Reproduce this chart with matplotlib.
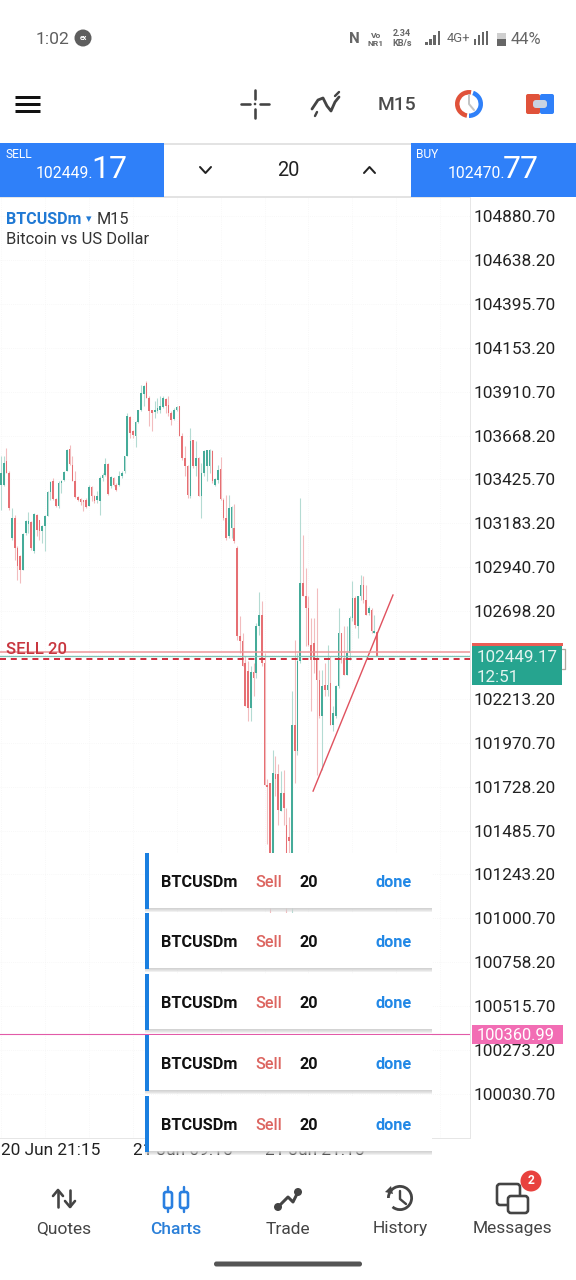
import matplotlib
matplotlib.use("Agg")
import logging
logging.getLogger("matplotlib.font_manager").setLevel(logging.ERROR)
import matplotlib.pyplot as plt
from matplotlib.patches import Rectangle, Circle, FancyBboxPatch, Wedge, Polygon

# ---------- data ----------
highs = [103553,103557,103599,103470,103268,103231,103056,103010,103130,103204,103244,103194,103240,103237,103204,103176,103231,103360,103415,103434,
103323,103415,103424,103470,103594,103618,103557,103470,103332,103323,103314,103323,103397,103388,103342,103360,103443,103461,103544,103516,
103443,103439,103406,103470,103470,103553,103793,103774,103701,103747,103811,103949,103949,103968,103885,103811,103857,103876,103885,103885,
103876,103885,103802,103820,103833,103833,103682,103609,103507,103710,103645,103636,103550,103516,103590,103590,103594,103590,103434,103507,
103550,103323,103342,103342,103277,103292,103056,102670,102578,102449,102421,102393,102412,102633,102802,102752,102467,101768,101750,101930,
101897,101851,101814,101823,101611,101560,102255,102541,102467,103323,103121,102937,102780,102660,102660,102826,102375,102375,102412,102513,
102449,102173,102292,102716,102578,102614,102614,102670,102863,102780,102780,102900,102894,102845,102725,102716,102679,102587]
tops = [103461,103517,103526,103461,103213,103213,103047,103005,103126,103194,103194,103189,103237,103231,103200,103167,103222,103355,103412,103415,
103318,103406,103419,103465,103590,103594,103507,103415,103327,103318,103310,103314,103384,103382,103332,103336,103434,103452,103513,103513,
103439,103434,103397,103447,103461,103553,103774,103771,103691,103741,103807,103903,103944,103958,103876,103807,103811,103820,103829,103876,
103870,103839,103793,103807,103826,103829,103667,103544,103498,103636,103642,103544,103544,103461,103581,103586,103590,103581,103428,103480,
103483,103314,103213,103268,103273,103157,103047,102559,102532,102412,102366,102360,102360,102618,102679,102679,102412,101740,101746,101805,
101801,101801,101694,101694,101519,101450,102071,102071,102421,102854,102854,102780,102716,102513,102522,102430,102320,102283,102292,102292,
102301,102136,102283,102578,102578,102440,102467,102660,102771,102771,102780,102845,102845,102762,102716,102706,102587,102582]
bottoms = [103397,103397,103461,103268,103102,103047,102946,102927,102927,103130,103181,103047,103029,103148,103139,103139,103167,103226,103355,103318,
103277,103277,103406,103421,103470,103511,103415,103327,103310,103299,103299,103273,103281,103332,103305,103310,103305,103434,103450,103347,
103388,103397,103366,103397,103443,103470,103553,103682,103673,103664,103741,103807,103899,103876,103802,103793,103798,103802,103811,103826,
103829,103793,103756,103760,103807,103667,103544,103498,103342,103336,103498,103498,103336,103336,103461,103498,103498,103415,103397,103424,
103318,103213,103102,103111,103157,103084,102559,102532,102393,102173,102163,102163,102329,102357,102614,102412,101740,101727,101323,101323,
101768,101602,101593,101611,101290,101430,101340,101924,101924,102421,102780,102716,102513,102430,102430,102320,102117,102117,102265,102265,
102071,102071,102117,102283,102430,102347,102347,102467,102660,102624,102614,102780,102762,102679,102688,102587,102578,102449]
lows = [103259,103388,103461,103259,103093,102983,102872,102854,102927,103121,103130,103038,103019,103111,103093,103075,103029,103222,103314,103314,
103273,103268,103351,103415,103470,103507,103415,103323,103305,103286,103250,103268,103277,103305,103296,103296,103231,103415,103443,103342,
103378,103388,103360,103388,103434,103461,103553,103655,103655,103605,103737,103802,103829,103876,103719,103691,103765,103793,103793,103820,
103793,103774,103728,103756,103802,103664,103535,103443,103323,103323,103489,103443,103332,103213,103443,103415,103461,103406,103388,103406,
103314,103204,103093,103102,103102,103075,102541,102467,102393,102173,102090,102090,102228,102329,102568,102393,101740,101409,101030,101200,
101676,101519,101593,101519,101030,101100,101030,101749,101906,102412,102780,102504,102504,102145,102357,101795,102108,101823,102228,102228,
102071,102034,102108,102275,102412,102347,102347,102430,102642,102605,102550,102762,102743,102679,102679,102578,102578,102449]
bullish_idx = (0,1,4,8,9,10,12,15,16,17,18,21,22,23,24,32,35,36,37,38,40,43,44,45,46,49,50,51,52,56,57,58,59,63,64,69,71,73,74,75,76,78,79,83,84,91,93,94,99,102,106,108,109,117,119,121,122,123,126,127,128,130,131,134,136)
bullish = [i in bullish_idx for i in range(len(highs))]

price_ticks = [104880.70,104638.20,104395.70,104153.20,103910.70,103668.20,103425.70,103183.20,102940.70,102698.20,102455.70,
               102213.20,101970.70,101728.20,101485.70,101243.20,101000.70,100758.20,100515.70,100273.20,100030.70]
hidden_tick = 102455.70  # sits under the live price badge
time_tick_idx = [0, 48, 96]
time_tick_labels = ["20 Jun 21:15", "21 Jun 09:15", "21 Jun 21:15"]
trend_idx = [113.7, 142.8]
trend_price = [101704, 102787]
ask_price = 102470.77
bid_price = 102449.17
order_price = 102434
alert_price = 100360.99
orders = 5

# ---------- style ----------
GREEN, RED = "#45ab99", "#e66f73"
GWICK, RWICK = "#b4dbd3", "#f2bcbe"
BLUE = "#2f80f9"
FONT = ["Roboto", "DejaVu Sans"]
plt.rcParams["font.family"] = FONT
W, H = 576, 1280
px = 0.72  # points per pixel at dpi 100

fig = plt.figure(figsize=(W/100, H/100), dpi=100, facecolor="white")

# ---------- chart ----------
ax = fig.add_axes([0, 1-1138/H, 470/W, (1138-197)/H], zorder=1)
ax.set_xlim(-0.364, 170.86)
ax.set_ylim(99787.6, 104985.7)
x = list(range(len(highs)))
ax.vlines(x, lows, highs, colors=[GWICK if b else RWICK for b in bullish], lw=1.1*px, zorder=3)
ax.bar(x, [t-b for t, b in zip(tops, bottoms)], bottom=bottoms, width=0.6,
       color=[GREEN if b else RED for b in bullish], lw=0, zorder=4)
ax.plot(trend_idx, trend_price, color="#e0525f", lw=1.4*px, zorder=5)
ax.axhline(ask_price, color="#ec9496", lw=1.5*px, zorder=5)
ax.axhline(bid_price, color="#7fc4b6", lw=1.3*px, zorder=5)
ax.axhline(order_price, color="#cf3040", lw=2*px, ls=(0, (3, 2.4)), zorder=6)
ax.axhline(alert_price, color="#e25aa8", lw=1.1*px, zorder=6)
ax.yaxis.tick_right()
ax.set_yticks(price_ticks, ["" if p == hidden_tick else f"{p:.2f}" for p in price_ticks])
ax.set_xticks(time_tick_idx, time_tick_labels, ha="left")
ax.set_xticks(range(16, 170, 16), minor=True)
ax.tick_params(axis="y", length=0, pad=2.6, labelsize=17.2*px, labelcolor="#222222")
ax.tick_params(axis="x", which="major", length=0, pad=3.8, labelsize=17.3*px, labelcolor="#222222")
ax.tick_params(axis="x", which="minor", length=0)
ax.grid(True, which="both", color="#f5f5f5", lw=0.8*px, ls=":", zorder=0)
ax.set_axisbelow(True)
ax.spines["left"].set_visible(False)
for s in ("right", "bottom", "top"):
    ax.spines[s].set_color("#e6e6e6")
    ax.spines[s].set_linewidth(1*px)

# ---------- app interface overlay, in screen pixels ----------
ui = fig.add_axes([0, 0, 1, 1], zorder=5)
ui.set_xlim(0, W); ui.set_ylim(H, 0); ui.axis("off"); ui.patch.set_alpha(0)

def txt(x, y, s, size, color="#222222", ha="left", weight="normal", fam=FONT, z=6):
    return ui.text(x, y, s, fontsize=size*px, color=color, ha=ha, va="center", fontweight=weight, family=fam, zorder=z)
def rect(x0, y0, x1, y1, color, z=1, alpha=1):
    ui.add_patch(Rectangle((x0, y0), x1-x0, y1-y0, fc=color, ec="none", zorder=z, alpha=alpha))
def line(xs, ys, color="#444444", lw=2, z=3, cap="round"):
    ui.plot(xs, ys, color=color, lw=lw*px, zorder=z, solid_capstyle=cap, solid_joinstyle="round")
def rrect(x0, y0, x1, y1, r, fc, ec="none", lw=0, z=3):
    ui.add_patch(FancyBboxPatch((x0+r, y0+r), x1-x0-2*r, y1-y0-2*r, boxstyle=f"round,pad={r}", fc=fc, ec=ec, lw=lw*px, zorder=z))

# chart captions
txt(6, 220, "BTCUSDm", 16, "#2079d4", weight="bold")
txt(86, 219, "▾", 11, "#2079d4", fam=["DejaVu Sans"])
txt(97, 220, "M15", 16.3, "#333333")
txt(6, 240, "Bitcoin vs US Dollar", 16.5, "#333333")
txt(6, 649, "SELL 20", 16.8, "#c8363f", weight="medium")

# status bar
txt(36, 39, "1:02", 17.5, "#5f5f5f")
ui.add_patch(Circle((83, 38), 8.5, fc="#5e5e5e", zorder=3))
txt(83, 38, "ex", 7, "white", ha="center", weight="bold")
txt(354, 39, "N", 15, "#666666", ha="center", weight="bold")
txt(376, 35, "Vo", 8.5, "#666666", ha="center", weight="bold")
txt(376, 43, "NR1", 8.5, "#666666", ha="center", weight="bold")
txt(402, 34, "2.34", 9, "#666666", ha="center", weight="bold")
txt(402, 43, "KB/s", 9, "#666666", ha="center", weight="bold")
for i, h in enumerate((3, 6, 10, 14)):
    rect(425+4.2*i, 45-h, 427.5+4.2*i, 45, "#666666", 3)
txt(447, 38, "4G+", 13, "#666666")
for i, h in enumerate((6, 10, 13, 14)):
    rect(474+4.0*i, 45-h, 476.3+4.0*i, 45, "#666666", 3)
rect(497, 33, 506, 46, "#cfcfcf", 2)
rect(497, 39, 506, 46, "#666666", 3)
txt(511, 39, "44%", 16.5, "#666666")

# toolbar
for y in (97, 104, 111):
    line([15, 40], [y, y], "#111111", 3, cap="butt")
line([241, 250], [104, 104], "#444444", 2.6); line([260, 269], [104, 104], "#444444", 2.6)
line([255, 255], [90, 99], "#444444", 2.6); line([255, 255], [109, 118], "#444444", 2.6)
ui.add_patch(Circle((255, 104), 1.3, fc="#444444", zorder=3))
line([312, 318, 323, 327, 331, 335, 339], [109, 100, 98, 106, 111, 102, 97], "#444444", 2.8)
line([315, 317], [116, 112], "#444444", 2.4); line([335, 339], [96, 92], "#444444", 2.4)
txt(397, 105, "M15", 19.3, "#4a4a4a", ha="center", weight="medium")
ui.add_patch(Wedge((469, 104), 14, 100, 280, width=4.5, fc="#e0523a", zorder=3))
ui.add_patch(Wedge((469, 104), 14, -70, 90, width=4.5, fc="#2f80f9", zorder=3))
line([469, 469, 474], [95, 104, 110], "#c4c4c4", 2)
rrect(526, 94, 540, 114, 2, "#e0523a")
rrect(540, 94, 554, 114, 2, "#2f80f9")
rrect(533, 100, 547, 108, 3, "#c9d4e2", z=4)

# trade bar
rect(0, 143, 164, 197, BLUE)
rect(411, 143, 576, 197, BLUE)
rect(164, 143, 411, 145, "#e3e3e3"); rect(164, 196, 411, 198, "#e3e3e3")
txt(5, 155, "SELL", 12, "white")
txt(36, 173, "102449.", 15.8, "white")
txt(91, 170, "17", 32, "white")
txt(416, 155, "BUY", 12, "white")
txt(448, 173, "102470.", 15.8, "white")
txt(503, 170, "77", 32, "white")
line([200, 205.5, 211], [167, 173, 167], "#222222", 2)
line([364, 369.5, 375], [173, 167, 173], "#222222", 2)
txt(288, 171, "20", 20, "#222222", ha="center")

# price badges
rect(472, 645, 562, 685, "#26a48f", 4)
rect(472, 643, 563, 646, "#ea5d55", 5)
line([562, 565, 565, 562], [649, 649, 669, 669], "#b0a8a0", 1.3, z=4)
txt(477, 657, f"{bid_price:.2f}", 17, "#e4f4f0")
txt(477, 678, "12:51", 17, "#e4f4f0")
rect(472, 1025, 563, 1044, "#f26db4", 4)
txt(477, 1035, f"{alert_price:.2f}", 16.5, "white")

# order notifications
tops_px = [853, 913, 974, 1035, 1096]
for t in tops_px[:orders]:
    b = t+55
    for k, a in enumerate((0.9, 0.75, 0.55, 0.3)):
        rect(145, b+k, 432, b+k+1, "#cfcfcf", 5, a)
    rect(145, t, 432, b, "white", 6)
    rect(145, t, 149, b+1, "#1a7fe0", 7)
    for xx, s, c, w in ((161, "BTCUSDm", "#111111", "bold"), (255, "Sell", "#dc6560", "medium"),
                        (299, "20", "#111111", "bold"), (376, "done", "#2288e6", "bold")):
        txt(xx, t+29.6, s, 16.3, c, weight=w, z=8)

# bottom navigation
NAV = "#444444"
for xx, s, c, w in ((64, "Quotes", NAV, "normal"), (176, "Charts", "#2a7fd8", "medium"),
                    (288, "Trade", NAV, "normal"), (400, "History", NAV, "normal"), (512, "Messages", NAV, "normal")):
    txt(xx, 1229, s, 17.4, c, ha="center", weight=w)
# quotes icon
line([58, 58], [1191, 1207], NAV, 2.6); line([53, 58, 63], [1196, 1190, 1196], NAV, 2.6)
line([70, 70], [1190, 1206], NAV, 2.6); line([65, 70, 75], [1201, 1207, 1201], NAV, 2.6)
# charts icon
for xx in (168, 184):
    line([xx, xx], [1187, 1212], "#2a7fe0", 2.4)
    rrect(xx-4, 1192, xx+4, 1208, 2, "white", "#2a7fe0", 2.6, z=4)
# trade icon
line([278, 288, 293, 298], [1207, 1197, 1202, 1192], NAV, 3)
ui.add_patch(Circle((278, 1207), 4, fc=NAV, zorder=4)); ui.add_patch(Circle((298, 1192), 4, fc=NAV, zorder=4))
# history icon
ui.add_patch(Wedge((400, 1198), 13, -180, 130, width=2.8, fc=NAV, zorder=3))
ui.add_patch(Polygon([[385, 1192], [391, 1186], [393, 1194]], fc=NAV, zorder=3))
line([400, 400, 406], [1191, 1199, 1204], NAV, 2.4)
# messages icon
rrect(497, 1184, 520, 1205, 3, "white", NAV, 2.6, z=3)
rrect(508, 1196, 528, 1213, 3, "white", NAV, 2.6, z=4)
ui.add_patch(Circle((531, 1181), 10.5, fc="#e8413e", zorder=5))
txt(531, 1181, "2", 12, "white", ha="center", weight="bold")
# home indicator
rrect(214, 1261.5, 362, 1266.5, 2.4, "#555555")

fig.savefig("out.png", dpi=100, facecolor="white")
